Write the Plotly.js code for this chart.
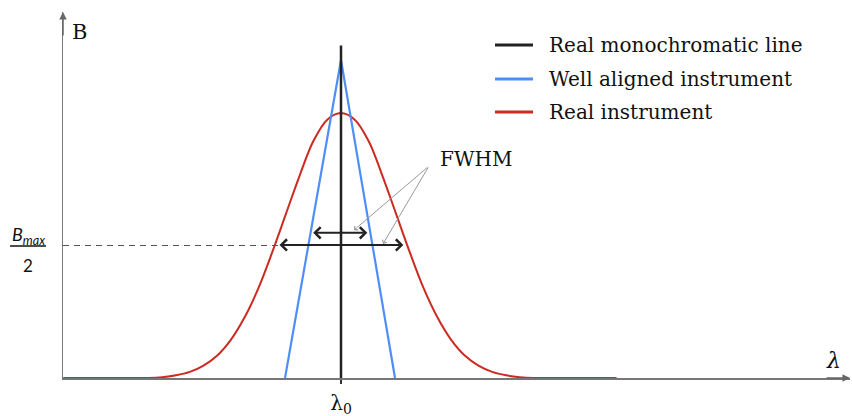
<!DOCTYPE html>
<html>
<head>
<meta charset="utf-8">
<script src="https://cdn.plot.ly/plotly-3.0.1.min.js"></script>
<style>html,body{margin:0;padding:0;background:#fff;}#chart{width:852px;height:416px;}</style>
</head>
<body>
<div id="chart"></div>
<script>
// ---- data (λ in arbitrary units, λ0 = 0; B normalised to the real-instrument max) ----
const seriesNames = ["Real monochromatic line", "Well aligned instrument", "Real instrument"];
const seriesColors = ["#222222", "#4d8ff7", "#cc2b22"];

const lineX = [0, 0];
const lineY = [0, 1.255];

const wellX = [-1.018, 0, 0.982];
const wellY = [0, 1.2, 0];

const realX = [-5.05, -4.5, -4.0, -3.5, -3.25, -3.0, -2.75, -2.5, -2.25, -2.0, -1.75, -1.5, -1.25, -1.0, -0.75, -0.5, -0.25, 0,
               0.25, 0.5, 0.75, 1.0, 1.25, 1.5, 1.75, 2.0, 2.25, 2.5, 2.75, 3.0, 3.25, 3.5, 4.0, 4.5, 5.01];
const realY = [0, 0, 0, 0, 0.003, 0.01, 0.023, 0.047, 0.085, 0.145, 0.23, 0.34, 0.475, 0.62, 0.765, 0.895, 0.975, 1.0,
               0.975, 0.895, 0.765, 0.62, 0.475, 0.34, 0.23, 0.145, 0.085, 0.047, 0.023, 0.01, 0.003, 0, 0, 0, 0];

const halfMax = 0.5;                     // B_max / 2
const fwhmWell = [-0.533, 0.478, 0.548]; // left, right, height
const fwhmReal = [-1.145, 1.133, 0.502];
const fwhmLabel = [1.6, 0.8];            // pointer origin
const fwhmTargets = [[0.236, 0.558], [0.764, 0.506]];
const xTickVals = [0];
const xTickText = ["λ<sub>0</sub>"];

const serif = "DejaVu Serif";
const traces = [
  {x: realX, y: realY, mode: "lines", name: seriesNames[2], line: {color: seriesColors[2], width: 2, shape: "spline", smoothing: 1}, showlegend: false},
  {x: wellX, y: wellY, mode: "lines", name: seriesNames[1], line: {color: seriesColors[1], width: 2.2}, showlegend: false},
  {x: lineX, y: lineY, mode: "lines", name: seriesNames[0], line: {color: seriesColors[0], width: 2.5}, showlegend: false}
];

const W = 852, H = 416, L = 63, R = 2, T = 12, B = 38;
const pw = W - L - R, ph = H - T - B;
const px = v => (v - L) / pw;
const py = v => (H - B - v) / ph;

const annotations = [];
const shapes = [];

// legend (manual)
const legRows = [45, 79, 112];
seriesNames.forEach((n, i) => {
  shapes.push({type: "line", xref: "paper", yref: "paper", x0: px(495), x1: px(533), y0: py(legRows[i]), y1: py(legRows[i]),
               line: {color: seriesColors[i], width: 3}});
  annotations.push({xref: "paper", yref: "paper", x: px(547), y: py(legRows[i]), text: n, showarrow: false,
                    xanchor: "left", yanchor: "middle", font: {family: serif, size: 20, color: "#111"}});
});

// half max dashed line
shapes.push({type: "line", xref: "paper", yref: "y", x0: 0, x1: px(278), y0: halfMax, y1: halfMax,
             line: {color: "#555", width: 1.2, dash: "6px,5px"}});

// fraction label B_max / 2
annotations.push({xref: "paper", yref: "paper", x: px(28), y: py(235), text: "<i>B</i><sub><i>max</i></sub>", showarrow: false,
                  xanchor: "center", yanchor: "middle", font: {family: "Lato", size: 18, color: "#111"}});
shapes.push({type: "line", xref: "paper", yref: "paper", x0: px(10), x1: px(46), y0: py(246), y1: py(246),
             line: {color: "#111", width: 1.3}});
annotations.push({xref: "paper", yref: "paper", x: px(28), y: py(265), text: "2", showarrow: false,
                  xanchor: "center", yanchor: "middle", font: {family: "Lato", size: 17, color: "#111"}});

// axis titles
annotations.push({xref: "paper", yref: "paper", x: px(79), y: py(32), text: "B", showarrow: false,
                  xanchor: "center", yanchor: "middle", font: {family: serif, size: 21, color: "#111"}});
annotations.push({xref: "paper", yref: "paper", x: px(833), y: py(360), text: "<i>λ</i>", showarrow: false,
                  xanchor: "center", yanchor: "middle", font: {family: serif, size: 22, color: "#111"}});

// axis arrowheads
annotations.push({xref: "paper", yref: "paper", x: 0, y: 1, ax: 0, ay: 25, text: "",
                  showarrow: true, arrowhead: 2, arrowsize: 1, arrowwidth: 1.5, arrowcolor: "#666"});
annotations.push({xref: "paper", yref: "paper", x: 1, y: 0, ax: -25, ay: 0, text: "",
                  showarrow: true, arrowhead: 2, arrowsize: 1, arrowwidth: 1.5, arrowcolor: "#666"});

// FWHM double arrows
[fwhmWell, fwhmReal].forEach(f => {
  annotations.push({xref: "x", yref: "y", axref: "x", ayref: "y", x: f[1], y: f[2], ax: f[0], ay: f[2], text: "",
                    showarrow: true, arrowside: "end+start", arrowhead: 4, startarrowhead: 4, arrowsize: 1.1, startarrowsize: 1.1,
                    arrowwidth: 2, arrowcolor: "#222"});
});

// FWHM pointers
annotations.push({xref: "x", yref: "y", x: 1.76, y: 0.825, text: "FWHM", showarrow: false, xanchor: "left", yanchor: "middle",
                  font: {family: serif, size: 20, color: "#111"}});
fwhmTargets.forEach(h => {
  annotations.push({xref: "x", yref: "y", axref: "x", ayref: "y", x: h[0], y: h[1], ax: fwhmLabel[0], ay: fwhmLabel[1], text: "",
                    showarrow: true, arrowhead: 4, arrowsize: 1, arrowwidth: 1, arrowcolor: "#999"});
});

const layout = {
  width: W, height: H,
  margin: {l: L, r: R, t: T, b: B, pad: 0},
  paper_bgcolor: "#fff", plot_bgcolor: "#fff",
  showlegend: false,
  xaxis: {range: [(0 - (341 - L) / 55), (W - R - 341) / 55], showgrid: false, zeroline: false, showline: true,
          linecolor: "#777", linewidth: 1.5, tickvals: xTickVals, ticktext: xTickText, ticks: "outside", ticklen: 4,
          tickwidth: 2, tickcolor: "#333", ticklabelstandoff: 2, tickfont: {family: serif, size: 20, color: "#111"}, fixedrange: true},
  yaxis: {range: [0, ph / 265], showgrid: false, zeroline: false, showline: true, linecolor: "#777", linewidth: 1.5,
          showticklabels: false, ticks: "", fixedrange: true},
  shapes: shapes,
  annotations: annotations
};

Plotly.newPlot("chart", traces, layout, {displayModeBar: false, staticPlot: true});
</script>
</body>
</html>
